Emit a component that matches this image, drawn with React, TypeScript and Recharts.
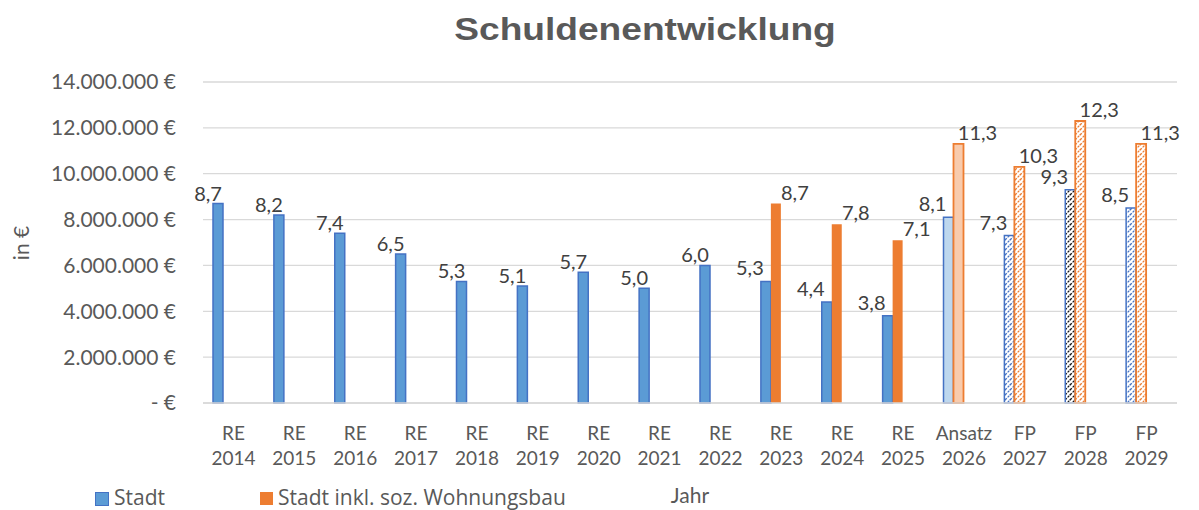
import React from 'react'
import { BarChart, Bar, XAxis, YAxis, CartesianGrid, LabelList, Cell } from 'recharts'

const kategorien = [
  'RE 2014', 'RE 2015', 'RE 2016', 'RE 2017', 'RE 2018', 'RE 2019', 'RE 2020', 'RE 2021',
  'RE 2022', 'RE 2023', 'RE 2024', 'RE 2025', 'Ansatz 2026', 'FP 2027', 'FP 2028', 'FP 2029',
]

// Werte in Euro
const stadt = [
  8700000, 8200000, 7400000, 6500000, 5300000, 5100000, 5700000, 5000000,
  6000000, 5300000, 4400000, 3800000, 8100000, 7300000, 9300000, 8500000,
]

const stadtInklWohnungsbau = [
  null, null, null, null, null, null, null, null,
  null, 8700000, 7800000, 7100000, 11300000, 10300000, 12300000, 11300000,
]

const yTicks = [0, 2000000, 4000000, 6000000, 8000000, 10000000, 12000000, 14000000]

const HERVORGEHOBEN = 'FP 2028'

const BLAU = '#5B9BD5'
const BLAU_RAND = '#4472C4'
const ORANGE = '#ED7D31'
const GRAU = '#595959'
const FONT = 'Lato, "Open Sans", sans-serif'
const FONT_LEGENDE = '"Open Sans", Lato, sans-serif'

const daten = kategorien.map((k, i) => ({
  jahr: k,
  stadt: stadt[i],
  wohnungsbau: stadtInklWohnungsbau[i],
}))

function art(k: string) {
  return k.split(' ')[0]
}

function fillBlau(k: string) {
  if (art(k) === 'Ansatz') return '#BDD7EE'
  if (art(k) === 'FP') return k === HERVORGEHOBEN ? 'url(#schraffurDunkel)' : 'url(#schraffurBlau)'
  return BLAU
}

function fillOrange(k: string) {
  if (art(k) === 'Ansatz') return '#F8CBAD'
  if (art(k) === 'FP') return 'url(#schraffurOrange)'
  return ORANGE
}

function euro(v: number) {
  if (v === 0) return '- €'
  return String(v).replace(/\B(?=(\d{3})+(?!\d))/g, '.') + ' €'
}

function mio(v: number) {
  return (v / 1000000).toFixed(1).replace('.', ',')
}

function XTick(props: any) {
  const { x, y, payload } = props
  const [a, b] = String(payload.value).split(' ')
  return (
    <text x={x} y={y} textAnchor="middle" fill={GRAU} fontSize={19} fontFamily={FONT}>
      <tspan x={x} dy={35}>{a}</tspan>
      <tspan x={x} dy={25}>{b}</tspan>
    </text>
  )
}

function labelBlau(props: any) {
  const { x, y, width, value, index } = props
  if (value == null) return null
  const paar = stadtInklWohnungsbau[index] != null
  return (
    <text
      x={x + width / 2 + (paar ? -16 : -10)}
      y={y - (paar ? 14 : 11)}
      textAnchor="middle"
      dominantBaseline="central"
      fill="#404040"
      fontSize={20}
      fontFamily={FONT}
    >
      {mio(value)}
    </text>
  )
}

function labelOrange(props: any) {
  const { x, y, width, value } = props
  if (value == null) return null
  return (
    <text
      x={x + width / 2 + 19}
      y={y - 12}
      textAnchor="middle"
      dominantBaseline="central"
      fill="#404040"
      fontSize={20}
      fontFamily={FONT}
    >
      {mio(value)}
    </text>
  )
}

export default function App() {
  return (
    <div style={{ position: 'absolute', left: 0, top: 0, width: 1199, height: 510, background: '#fff', fontFamily: FONT, overflow: 'hidden' }}>
      <svg width={0} height={0} style={{ position: 'absolute' }}>
        <defs>
          <pattern id="schraffurBlau" patternUnits="userSpaceOnUse" width={5} height={5}>
            <rect width={5} height={5} fill="#fff" />
            <path d="M-1,1 l2,-2 M0,5 l5,-5 M4,6 l2,-2" stroke={BLAU_RAND} strokeWidth={1.3} strokeDasharray="2.5 1.2" />
          </pattern>
          <pattern id="schraffurDunkel" patternUnits="userSpaceOnUse" width={5} height={5}>
            <rect width={5} height={5} fill="#fff" />
            <path d="M-1,1 l2,-2 M0,5 l5,-5 M4,6 l2,-2" stroke="#111" strokeWidth={1.3} strokeDasharray="2.5 1.2" />
          </pattern>
          <pattern id="schraffurOrange" patternUnits="userSpaceOnUse" width={5} height={5}>
            <rect width={5} height={5} fill="#fff" />
            <path d="M-1,1 l2,-2 M0,5 l5,-5 M4,6 l2,-2" stroke={ORANGE} strokeWidth={1.3} strokeDasharray="2.5 1.2" />
          </pattern>
        </defs>
      </svg>

      <div
        style={{
          position: 'absolute', left: 645, top: 11, transform: 'translateX(-50%) scaleX(1.16)',
          fontFamily: '"Liberation Sans", Arial, sans-serif', fontWeight: 700, fontSize: 32, color: GRAU, whiteSpace: 'nowrap',
        }}
      >
        Schuldenentwicklung
      </div>

      <BarChart
        width={1199}
        height={510}
        data={daten}
        margin={{ top: 82, right: 22, left: 0, bottom: 0 }}
        barCategoryGap={10}
        barGap={0}
      >
        <CartesianGrid vertical={false} stroke="#d9d9d9" strokeWidth={1.3} />
        <XAxis
          dataKey="jahr"
          height={107}
          interval={0}
          tickLine={false}
          axisLine={{ stroke: '#d9d9d9', strokeWidth: 1.3 }}
          tick={<XTick />}
          tickSize={0}
        />
        <YAxis
          width={203}
          domain={[0, 14000000]}
          ticks={yTicks}
          tickFormatter={euro}
          axisLine={false}
          tickLine={false}
          tickSize={0}
          tickMargin={27}
          tick={{ fill: GRAU, fontSize: 21, fontFamily: FONT }}
        />
        <Bar dataKey="stadt" isAnimationActive={false} stroke={BLAU_RAND} strokeWidth={1.5}>
          {daten.map((d) => (
            <Cell key={d.jahr} fill={fillBlau(d.jahr)} />
          ))}
          <LabelList dataKey="stadt" content={labelBlau} />
        </Bar>
        <Bar dataKey="wohnungsbau" isAnimationActive={false}>
          {daten.map((d) => (
            <Cell key={d.jahr} fill={fillOrange(d.jahr)} stroke={ORANGE} strokeWidth={art(d.jahr) === 'RE' ? 0 : 1.8} />
          ))}
          <LabelList dataKey="wohnungsbau" content={labelOrange} />
        </Bar>
        {/* leere Reihen, damit die Säulen wie im Original links in der Kategorie stehen */}
        <Bar dataKey="leer1" isAnimationActive={false} />
        <Bar dataKey="leer2" isAnimationActive={false} />
      </BarChart>

      <div style={{ position: 'absolute', left: 20, top: 243, transform: 'translate(-50%, -50%) rotate(-90deg)', fontSize: 21, color: GRAU, whiteSpace: 'nowrap' }}>
        in €
      </div>
      <div style={{ position: 'absolute', left: 690, top: 494, transform: 'translate(-50%, -50%)', fontSize: 21, color: GRAU }}>
        Jahr
      </div>

      <div style={{ position: 'absolute', left: 95, top: 485, height: 24, lineHeight: '24px', display: 'flex', alignItems: 'center', fontSize: 21, fontFamily: FONT_LEGENDE, color: GRAU, whiteSpace: 'nowrap' }}>
        <span style={{ width: 12, height: 12, background: BLAU, border: `1px solid ${BLAU_RAND}`, marginRight: 5, marginTop: 3 }} />
        <span>Stadt</span>
        <span style={{ width: 13, height: 13, background: ORANGE, marginLeft: 95, marginRight: 5, marginTop: 3 }} />
        <span>Stadt inkl. soz. Wohnungsbau</span>
      </div>
    </div>
  )
}
